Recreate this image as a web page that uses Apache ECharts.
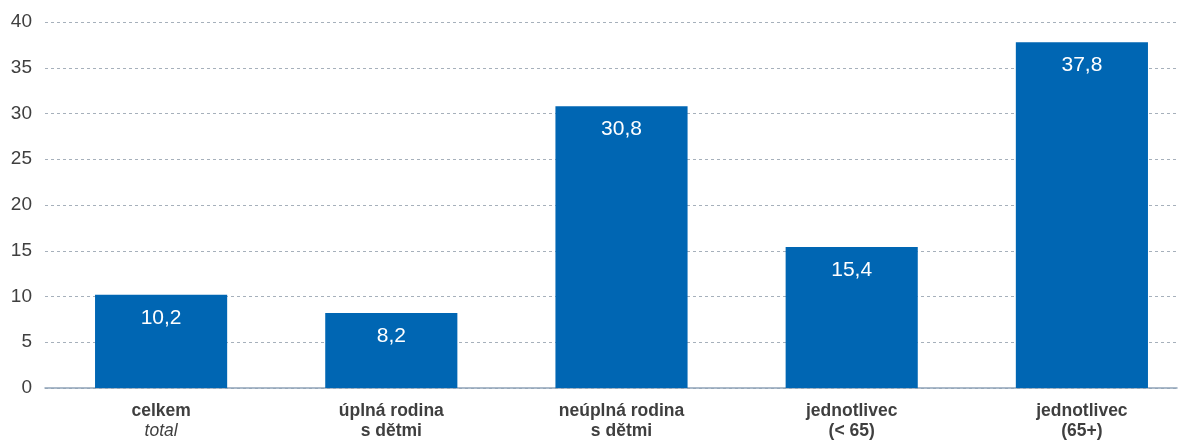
<!DOCTYPE html>
<html>
<head>
<meta charset="utf-8">
<script src="https://cdn.jsdelivr.net/npm/echarts@6/dist/echarts.min.js"></script>
<style>
html, body { margin: 0; padding: 0; background: #fff; }
#chart { width: 1187px; height: 441px; }
</style>
</head>
<body>
<div id="chart"></div>
<script>
// kategorie a hodnoty
var categories = ['celkem', 'úplná rodina\ns dětmi', 'neúplná rodina\ns dětmi', 'jednotlivec\n(< 65)', 'jednotlivec\n(65+)'];
var subLabels = ['total', '', '', '', ''];
var values = [10.2, 8.2, 30.8, 15.4, 37.8];
var yTicks = [0, 5, 10, 15, 20, 25, 30, 35, 40];

var font = 'Liberation Sans, Arial, sans-serif';
var chart = echarts.init(document.getElementById('chart'));
var option = {
    animation: false,
    textStyle: { fontFamily: font },
    grid: [
        // mřížka a osa y
        { left: 45, right: 10, top: 22, bottom: 53, outerBoundsMode: 'none' },
        // sloupce
        { left: 46, right: -10, top: 22, bottom: 53, outerBoundsMode: 'none' }
    ],
    xAxis: [{
        gridIndex: 0,
        type: 'value',
        min: 0, max: 1,
        axisLine: { show: true, onZero: false, lineStyle: { color: '#8fa3b8', width: 1.5 } },
        axisTick: { show: false },
        axisLabel: { show: false },
        splitLine: { show: false }
    }, {
        gridIndex: 1,
        type: 'category',
        data: categories,
        axisLine: { show: false },
        axisTick: { show: false },
        axisLabel: {
            margin: 13,
            interval: 0,
            formatter: function (v, i) {
                var lines = v.split('\n');
                var s = lines.map(function (l) { return '{b|' + l + '}'; }).join('\n');
                if (subLabels[i]) s += '\n{i|' + subLabels[i] + '}';
                return s;
            },
            rich: {
                b: { fontWeight: 'bold', fontSize: 17.5, color: '#3f3f3f', lineHeight: 20, fontFamily: font },
                i: { fontStyle: 'italic', fontSize: 17.5, color: '#3f3f3f', lineHeight: 20, fontFamily: font }
            }
        }
    }],
    yAxis: [{
        gridIndex: 0,
        type: 'value',
        min: yTicks[0],
        max: yTicks[yTicks.length - 1],
        interval: 5,
        axisLine: { show: false },
        axisTick: { show: false },
        axisLabel: { fontSize: 19, color: '#3f3f3f', margin: 13 },
        splitLine: { lineStyle: { color: '#a6b0bb', type: [3, 3], width: 1 } }
    }, {
        gridIndex: 1,
        type: 'value',
        min: yTicks[0],
        max: yTicks[yTicks.length - 1],
        show: false
    }],
    series: [{
        type: 'bar',
        xAxisIndex: 1,
        yAxisIndex: 1,
        data: values,
        barWidth: '57.4%',
        itemStyle: { color: '#0066b3' },
        label: {
            show: true,
            position: 'insideTop',
            distance: 13,
            fontSize: 21,
            color: '#ffffff',
            formatter: function (p) { return String(p.value).replace('.', ','); }
        }
    }]
};
chart.setOption(option);
</script>
</body>
</html>
